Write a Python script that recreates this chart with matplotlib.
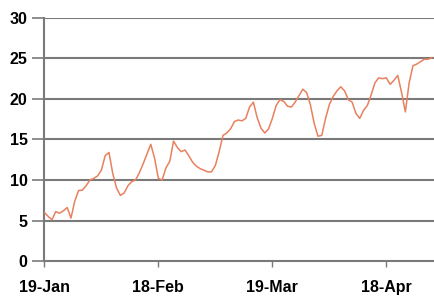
import matplotlib.pyplot as plt
import pandas as pd

# daily values, starting 19-Jan
start_date = "2008-01-19"
values = [
    6.0, 5.5, 5.1, 6.1, 5.9, 6.2, 6.6, 5.3, 7.4, 8.7,
    8.75, 9.3, 10.0, 10.2, 10.5, 11.2, 13.0, 13.4, 10.8, 9.0,
    8.1, 8.4, 9.3, 9.8, 10.0, 10.9, 12.0, 13.2, 14.4, 12.7,
    10.2, 10.0, 11.5, 12.3, 14.8, 14.0, 13.5, 13.7, 13.0, 12.2,
    11.7, 11.4, 11.2, 11.0, 11.0, 11.8, 13.5, 15.5, 15.8, 16.3,
    17.2, 17.4, 17.3, 17.6, 19.0, 19.6, 17.7, 16.4, 15.8, 16.3,
    17.6, 19.2, 19.9, 19.7, 19.1, 19.0, 19.6, 20.4, 21.2, 20.8,
    19.3, 17.0, 15.4, 15.5, 17.6, 19.3, 20.3, 21.0, 21.5, 21.0,
    19.9, 19.6, 18.2, 17.6, 18.6, 19.2, 20.5, 22.0, 22.6, 22.5,
    22.6, 21.8, 22.3, 22.9, 20.8, 18.4, 22.0, 24.1, 24.3, 24.6,
    24.9, 24.9, 25.1,
]
tick_dates = ["2008-01-19", "2008-02-18", "2008-03-19", "2008-04-18"]
tick_labels = ["19-Jan", "18-Feb", "19-Mar", "18-Apr"]
y_ticks = [0, 5, 10, 15, 20, 25, 30]

dates = pd.date_range(start_date, periods=len(values), freq="D")

plt.rcParams["font.family"] = "Liberation Sans"

fig = plt.figure(figsize=(4.35, 2.98), dpi=100)
ax = fig.add_axes([0.102, 0.124, 0.898, 0.816])

grid_color = "#7a7a7a"
for y in y_ticks[1:]:
    ax.axhline(y, color=grid_color, lw=1.5, zorder=1)

ax.plot(dates, values, color="#e9805e", lw=1.1, zorder=3)

ax.set_ylim(0, 30)
ax.set_xlim(pd.Timestamp(start_date), pd.Timestamp(start_date) + pd.Timedelta(days=102.8))
ax.set_yticks(y_ticks)
ax.set_xticks(pd.to_datetime(tick_dates))
ax.set_xticklabels(tick_labels)

for side in ["top", "right"]:
    ax.spines[side].set_visible(False)
for side in ["left", "bottom"]:
    ax.spines[side].set_color(grid_color)
    ax.spines[side].set_linewidth(1.5)

ax.tick_params(axis="y", length=9, width=1.2, color=grid_color, pad=3,
               labelsize=11.5)
ax.tick_params(axis="x", length=4, width=1, color=grid_color, pad=10,
               labelsize=11.5)
for lbl in ax.get_xticklabels() + ax.get_yticklabels():
    lbl.set_fontweight("bold")

fig.savefig("out.png", dpi=100)
